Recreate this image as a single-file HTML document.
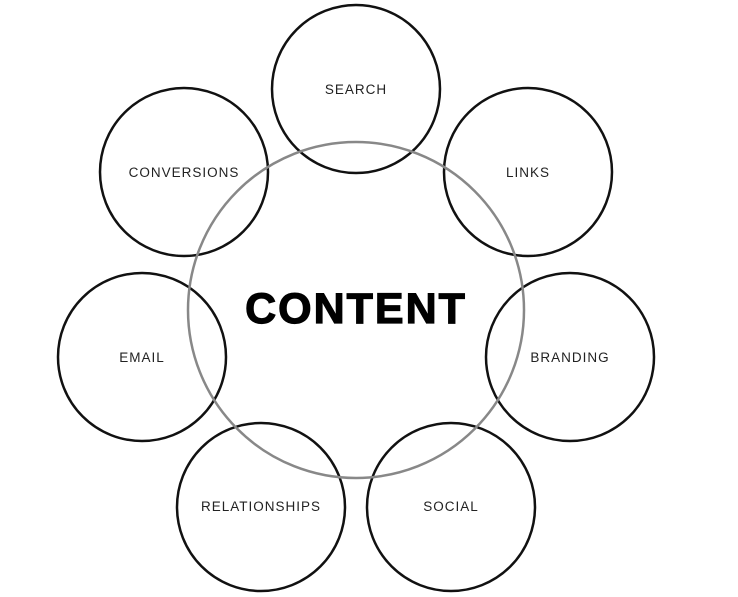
<!DOCTYPE html>
<html><head><style>html,body{margin:0;padding:0;background:#fff;}svg{display:block}</style></head>
<body>
<svg width="738" height="597" viewBox="0 0 738 597" xmlns="http://www.w3.org/2000/svg">
<g fill="none" stroke="#111" stroke-width="2.5">
<circle cx="356" cy="89" r="84"/>
<circle cx="528" cy="172" r="84"/>
<circle cx="570" cy="357" r="84"/>
<circle cx="451" cy="507" r="84"/>
<circle cx="261" cy="507" r="84"/>
<circle cx="142" cy="357" r="84"/>
<circle cx="184" cy="172" r="84"/>
</g>
<circle cx="356" cy="310" r="168" fill="none" stroke="#888" stroke-width="2.5"/>
<g font-family="Liberation Sans, sans-serif" font-size="13.5" fill="#222" text-anchor="middle" letter-spacing="1">
<text x="356" y="94">SEARCH</text>
<text x="528" y="177">LINKS</text>
<text x="570" y="362">BRANDING</text>
<text x="451" y="511">SOCIAL</text>
<text x="261" y="511">RELATIONSHIPS</text>
<text x="142" y="362">EMAIL</text>
<text x="184" y="177">CONVERSIONS</text>
</g>
<text x="356" y="323" font-family="Liberation Sans, sans-serif" font-weight="bold" font-size="43" text-anchor="middle" fill="#000" stroke="#000" stroke-width="1.2" letter-spacing="2">CONTENT</text>
</svg>
</body></html>
